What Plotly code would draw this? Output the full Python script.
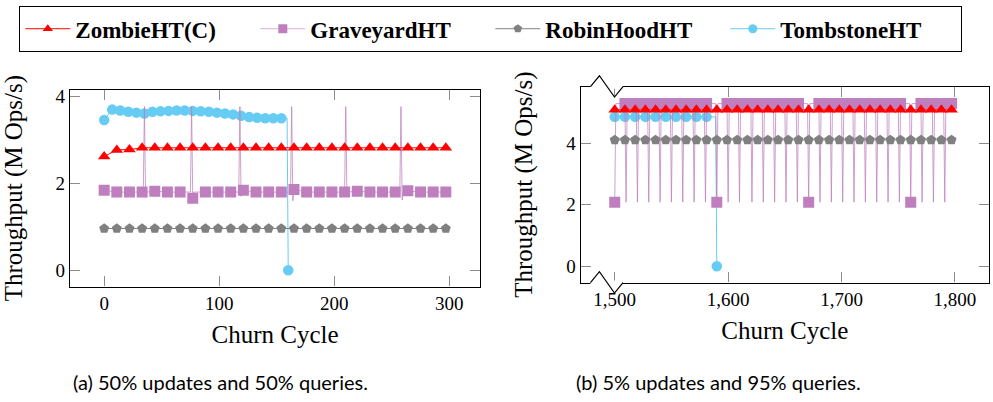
import plotly.graph_objects as go

# ---------------- data: panel (a) 50% updates / 50% queries ----------------
mark_x_a = [0, 11, 22, 33, 44, 55, 66, 77, 88, 99, 110, 121, 132, 143, 154,
            165, 176, 187, 198, 209, 220, 231, 242, 253, 264, 275, 286, 297]
zombie_a = [2.62, 2.77, 2.78, 2.82, 2.82, 2.82, 2.82, 2.82, 2.82, 2.82, 2.82, 2.82, 2.82, 2.82,
            2.82, 2.82, 2.82, 2.82, 2.82, 2.82, 2.82, 2.82, 2.82, 2.82, 2.82, 2.82, 2.82, 2.82]
robin_a = [0.96, 0.96, 0.96, 0.96, 0.96, 0.96, 0.96, 0.96, 0.96, 0.96, 0.96, 0.96, 0.96, 0.96,
           0.96, 0.96, 0.96, 0.96, 0.96, 0.96, 0.96, 0.96, 0.96, 0.96, 0.96, 0.96, 0.96, 0.96]
grave_a = [1.84, 1.80, 1.80, 1.80, 1.82, 1.80, 1.80, 1.66, 1.80, 1.80, 1.80, 1.84, 1.80, 1.80,
           1.80, 1.86, 1.80, 1.80, 1.80, 1.80, 1.82, 1.80, 1.80, 1.80, 1.83, 1.80, 1.80, 1.80]
# periodic spikes of the GraveyardHT line between marks
grave_a_spike_x = [34, 35, 36, 37, 75, 76, 78, 117, 118, 119, 120, 162, 163, 164,
                   209, 210, 211, 212, 257, 258, 259, 260]
grave_a_spike_y = [1.80, 3.77, 1.67, 1.80, 1.80, 3.77, 1.80, 1.80, 3.77, 1.70, 1.80, 1.80, 3.77, 1.60,
                   1.80, 3.77, 1.70, 1.80, 1.80, 3.77, 1.62, 1.80]
tomb_a_x = [0, 7, 14, 21, 28, 35, 42, 49, 56, 63, 70, 77, 84, 91, 98, 105, 112, 119,
            126, 133, 140, 147, 154, 160]
tomb_a = [3.46, 3.70, 3.68, 3.65, 3.63, 3.61, 3.65, 3.66, 3.67, 3.68, 3.68, 3.67, 3.66, 3.65,
          3.63, 3.61, 3.59, 3.56, 3.53, 3.51, 3.50, 3.50, 3.50, 0.0]
tomb_a_extra_x = [159]
tomb_a_extra_y = [3.50]

# ---------------- data: panel (b) 5% updates / 95% queries ----------------
mark_x_b = [1500, 1509, 1518, 1527, 1536, 1545, 1554, 1563, 1572, 1581, 1590, 1599,
            1608, 1617, 1626, 1635, 1644, 1653, 1662, 1671, 1680, 1689, 1698, 1707,
            1716, 1725, 1734, 1743, 1752, 1761, 1770, 1779, 1788, 1797]
zombie_b = [5.08, 5.08, 5.08, 5.08, 5.08, 5.08, 5.08, 5.08, 5.08, 5.08, 5.08, 5.08,
            5.08, 5.08, 5.08, 5.08, 5.08, 5.08, 5.08, 5.08, 5.08, 5.08, 5.08, 5.08,
            5.08, 5.08, 5.08, 5.08, 5.08, 5.08, 5.08, 5.08, 5.08, 5.08]
robin_b = [4.10, 4.10, 4.10, 4.10, 4.10, 4.10, 4.10, 4.10, 4.10, 4.10, 4.10, 4.10,
           4.10, 4.10, 4.10, 4.10, 4.10, 4.10, 4.10, 4.10, 4.10, 4.10, 4.10, 4.10,
           4.10, 4.10, 4.10, 4.10, 4.10, 4.10, 4.10, 4.10, 4.10, 4.10]
grave_b = [2.08, 5.28, 5.28, 5.28, 5.28, 5.28, 5.28, 5.28, 5.28, 5.28, 2.08, 5.28,
           5.28, 5.28, 5.28, 5.28, 5.28, 5.28, 5.28, 2.08, 5.28, 5.28, 5.28, 5.28,
           5.28, 5.28, 5.28, 5.28, 5.28, 2.08, 5.28, 5.28, 5.28, 5.28]
grave_b_drop_x = [1500, 1510, 1520, 1530, 1540, 1550, 1560, 1570, 1580, 1590, 1600, 1610,
                  1621, 1631, 1641, 1651, 1661, 1671, 1681, 1691, 1701, 1711, 1721, 1731,
                  1741, 1751, 1761, 1771, 1781, 1791]
grave_b_high = 5.28
grave_b_low = 2.08
grave_b_end_x = 1799
tomb_b_x = [1500, 1509, 1518, 1527, 1536, 1545, 1554, 1563, 1572, 1581, 1590]
tomb_b = [4.85, 4.85, 4.85, 4.85, 4.85, 4.85, 4.85, 4.85, 4.85, 4.85, 0.0]
tomb_b_extra_x = [1589]
tomb_b_extra_y = [4.85]

series_names = ["ZombieHT(C)", "GraveyardHT", "RobinHoodHT", "TombstoneHT"]

# ---------------- styles ----------------
RED = "#FF0000"
PURPLE = "#BF7FBF"
PURPLE_LINE = "rgba(191,127,191,0.75)"
GRAY = "#808080"
CYAN = "#66CCF4"
SERIF = "Liberation Serif"

W, H = 993, 402


def merge(xs1, ys1, xs2, ys2):
    pts = {}
    for x, y in zip(xs1, ys1):
        pts[x] = y
    for x, y in zip(xs2, ys2):
        pts[x] = y
    ks = sorted(pts)
    return ks, [pts[k] for k in ks]


# GraveyardHT line (a): marks + spikes
ga_lx, ga_ly = merge(mark_x_a, grave_a, grave_a_spike_x, grave_a_spike_y)
# GraveyardHT line (b): flat high level with drops
gb_lx, gb_ly = [], []
for d in grave_b_drop_x:
    if d > mark_x_b[0]:
        gb_lx.append(d - 1); gb_ly.append(grave_b_high)
    gb_lx.append(d); gb_ly.append(grave_b_low)
    gb_lx.append(d + 1); gb_ly.append(grave_b_high)
gb_lx.append(grave_b_end_x); gb_ly.append(grave_b_high)
# TombstoneHT lines
ta_lx, ta_ly = merge(tomb_a_x, tomb_a, tomb_a_extra_x, tomb_a_extra_y)
tb_lx, tb_ly = merge(tomb_b_x, tomb_b, tomb_b_extra_x, tomb_b_extra_y)

fig = go.Figure()


def add_series(xl, yl, xm, ym, color, lcolor, symbol, size, ax):
    xa, ya = ("x", "y") if ax == 1 else ("x2", "y2")
    fig.add_trace(go.Scatter(x=xl, y=yl, mode="lines", line=dict(color=lcolor, width=1),
                             showlegend=False, hoverinfo="skip", xaxis=xa, yaxis=ya))
    fig.add_trace(go.Scatter(x=xm, y=ym, mode="markers",
                             marker=dict(symbol=symbol, color=color, size=size, line=dict(width=0)),
                             showlegend=False, xaxis=xa, yaxis=ya))


# drawing order: Tombstone, Graveyard, RobinHood, Zombie (on top)
add_series(ta_lx, ta_ly, tomb_a_x, tomb_a, CYAN, CYAN, "circle", 10.5, 1)
add_series(ga_lx, ga_ly, mark_x_a, grave_a, PURPLE, PURPLE_LINE, "square", 11, 1)
add_series(mark_x_a, robin_a, mark_x_a, robin_a, GRAY, GRAY, "pentagon", 10.5, 1)
add_series(mark_x_a, zombie_a, mark_x_a, zombie_a, RED, RED, "triangle-up", 11, 1)

add_series(tb_lx, tb_ly, tomb_b_x, tomb_b, CYAN, CYAN, "circle", 10.5, 2)
add_series(gb_lx, gb_ly, mark_x_b, grave_b, PURPLE, PURPLE_LINE, "square", 11, 2)
add_series(mark_x_b, robin_b, mark_x_b, robin_b, GRAY, GRAY, "pentagon", 10.5, 2)
add_series(mark_x_b, zombie_b, mark_x_b, zombie_b, RED, RED, "triangle-up", 11, 2)

# legend entries
for name, col, lcol, sym in zip(series_names, [RED, PURPLE, GRAY, CYAN],
                                [RED, "rgba(191,127,191,0.6)", GRAY, CYAN],
                                ["triangle-up", "square", "pentagon", "circle"]):
    fig.add_trace(go.Scatter(x=[None], y=[None], mode="lines+markers", name=name,
                             line=dict(color=lcol, width=1),
                             marker=dict(symbol=sym, color=col, size=9, line=dict(width=0))))

axis_common = dict(showgrid=False, zeroline=False, showline=True, linecolor="black",
                   linewidth=1.2, mirror="ticks", ticks="inside", ticklen=10,
                   tickcolor="#8c8c8c", tickwidth=1,
                   tickfont=dict(family=SERIF, size=19, color="black"))
title_font = dict(family=SERIF, size=25, color="black")

fig.update_layout(
    width=W, height=H, margin=dict(l=0, r=0, t=0, b=0),
    paper_bgcolor="white", plot_bgcolor="white",
    font=dict(family=SERIF, color="black"),
    xaxis=dict(domain=[70 / W, 480 / W], range=[-29.7, 326.7], anchor="y",
               tickvals=[0, 100, 200, 300],
               title=dict(text="Churn Cycle", font=title_font, standoff=12),
               **axis_common),
    yaxis=dict(domain=[(H - 285.7) / H, (H - 87.3) / H], range=[-0.378, 4.16], anchor="x",
               tickvals=[0, 2, 4],
               title=dict(text="Throughput (M Ops/s)", font=title_font, standoff=26),
               **axis_common),
    xaxis2=dict(domain=[580.7 / W, 989 / W], range=[1470, 1830], anchor="y2",
                tickvals=[1500, 1600, 1700, 1800], tickformat=",",
                title=dict(text="Churn Cycle", font=title_font, standoff=12),
                **axis_common),
    yaxis2=dict(domain=[(H - 281.7) / H, (H - 84.3) / H], range=[-0.53, 5.83], anchor="x2",
                tickvals=[0, 2, 4],
                title=dict(text="Throughput (M Ops/s)", font=title_font, standoff=26),
                **axis_common),
    legend=dict(orientation="h", x=19 / W, y=1 - 3 / H, xanchor="left", yanchor="top",
                bgcolor="white", bordercolor="black", borderwidth=1.3, itemwidth=45,
                entrywidth=175, entrywidthmode="pixels",
                font=dict(family=SERIF, size=23, color="black", weight="bold"),
                tracegroupgap=0),
    showlegend=True,
)

# axis-break decorations on panel (b) (top and bottom of the x axis)
brk_x = [1478.6, 1486.5, 1499.8, 1507.3]
ph = 197.4
for base in [1.0, 0.0]:
    fig.add_shape(type="line", xref="x2", yref="y2 domain", x0=brk_x[0], x1=brk_x[3],
                  y0=base, y1=base, line=dict(color="white", width=4), layer="above")
    path = "M {},{} L {},{} L {},{} L {},{}".format(
        brk_x[0], base, brk_x[1], base + 11 / ph, brk_x[2], base - 10.5 / ph, brk_x[3], base)
    fig.add_shape(type="path", xref="x2", yref="y2 domain", path=path,
                  line=dict(color="black", width=1.2), layer="above")

# captions
cap_font = dict(family="Lato", size=20, color="black")
fig.add_annotation(text="(a) 50% updates and 50% queries.", x=220 / W, y=1 - 382 / H,
                   xref="paper", yref="paper", xanchor="center", yanchor="middle",
                   showarrow=False, font=cap_font)
fig.add_annotation(text="(b) 5% updates and 95% queries.", x=718 / W, y=1 - 382 / H,
                   xref="paper", yref="paper", xanchor="center", yanchor="middle",
                   showarrow=False, font=cap_font)

fig.write_html("out.html")
